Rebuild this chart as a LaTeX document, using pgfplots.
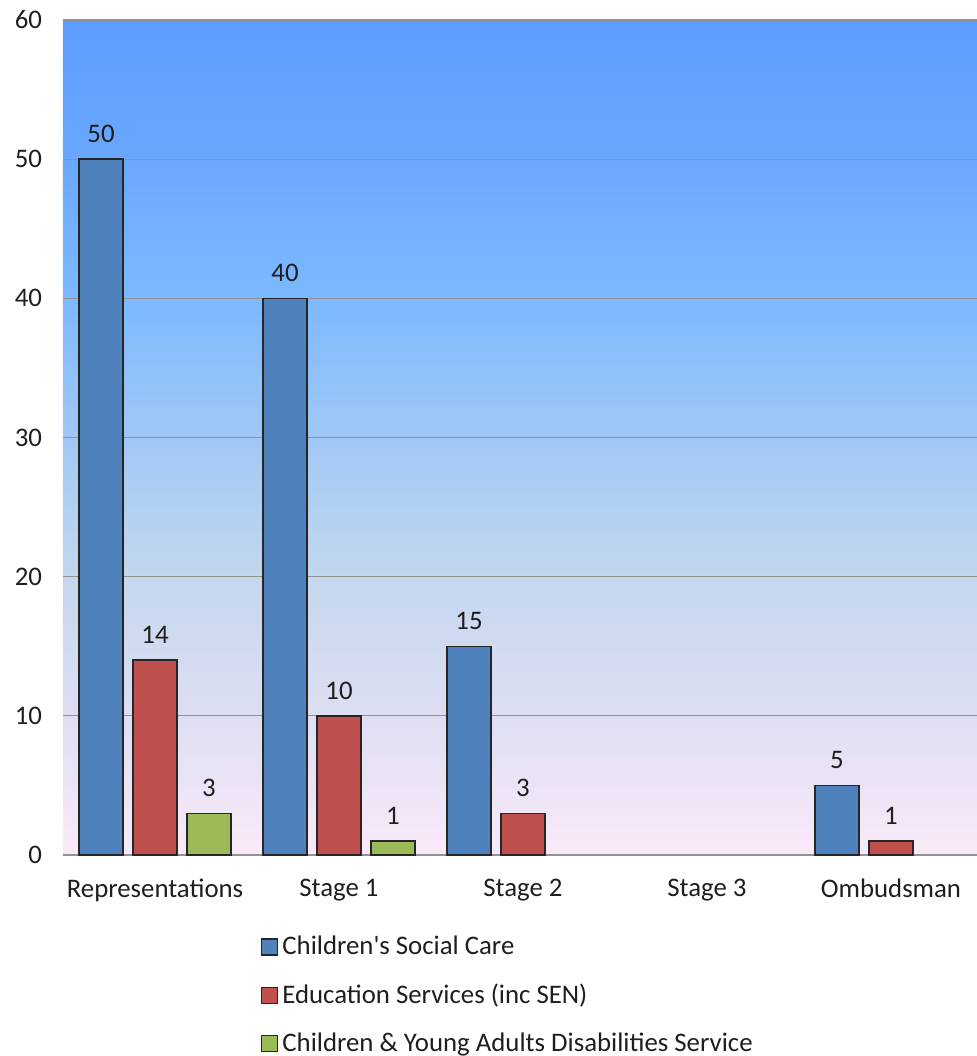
\documentclass[border=0pt]{standalone}
\usepackage{fontspec}
\setmainfont{Carlito}[Ligatures=TeXOff]
\usepackage{pgfplots}
\pgfplotsset{compat=1.18}
\definecolor{cblue}{RGB}{79,129,189}
\definecolor{cred}{RGB}{192,80,77}
\definecolor{cgreen}{RGB}{155,187,89}
\definecolor{g0}{RGB}{250,234,249}
\definecolor{g10}{RGB}{222,222,242}
\definecolor{g20}{RGB}{195,215,238}
\definecolor{g30}{RGB}{160,200,245}
\definecolor{g40}{RGB}{125,185,255}
\definecolor{g50}{RGB}{106,168,255}
\definecolor{g60}{RGB}{92,156,255}
\definecolor{txt}{RGB}{30,30,30}
\pgfdeclareverticalshading{bgshade}{100bp}{color(0bp)=(g0); color(25bp)=(g0); color(33.33bp)=(g10); color(41.67bp)=(g20); color(50bp)=(g30); color(58.33bp)=(g40); color(66.67bp)=(g50); color(75bp)=(g60); color(100bp)=(g60)}
\begin{document}
\begin{tikzpicture}
\begin{axis}[
  at={(0,0)}, anchor=south west,
  scale only axis,
  width=460pt, height=417.5pt,
  xmin=-0.5, xmax=4.5, ymin=0, ymax=60,
  ytick={0,10,...,60},
  xtick={0,1,2,3,4},
  xticklabels={Representations,Stage 1,Stage 2,Stage 3,Ombudsman},
  major tick length=0pt,
  axis line style={draw=none},
  ymajorgrids, grid style={gray!85, line width=0.6pt},
  axis background/.style={shading=bgshade},
  ybar=5pt, bar width=22pt,
  tick label style={font=\fontsize{13.4}{16}\selectfont, text=txt},
  /pgf/number format/assume math mode=true,
  yticklabel style={xshift=-7pt},
  xticklabel style={yshift=-8.5pt},
  nodes near coords,
  nodes near coords style={font=\fontsize{13.4}{16}\selectfont, text=txt, yshift=4.5pt},
  every axis plot/.append style={draw=black!85, line width=0.7pt},
  legend style={draw=none, fill=none, at={(0.215,-0.092)}, anchor=north west,
    font=\fontsize{13.4}{16}\selectfont, text=txt, row sep=9pt,
    legend cell align=left, inner sep=0pt},
  legend image code/.code={\draw[#1, line width=0.6pt] (0pt,-4pt) rectangle (8pt,4pt);},
]
\addplot[fill=cblue] coordinates {(0,50) (1,40) (2,15) (4,5)};
\addplot[fill=cred] coordinates {(0,14) (1,10) (2,3) (4,1)};
\addplot[fill=cgreen] coordinates {(0,3) (1,1)};
\legend{Children's Social Care, Education Services (inc SEN), Children \& Young Adults Disabilities Service}
\end{axis}
\pgfresetboundingbox
\useasboundingbox (-31.5pt,-100.5pt) rectangle (456.5pt,427.5pt);
\end{tikzpicture}
\end{document}
